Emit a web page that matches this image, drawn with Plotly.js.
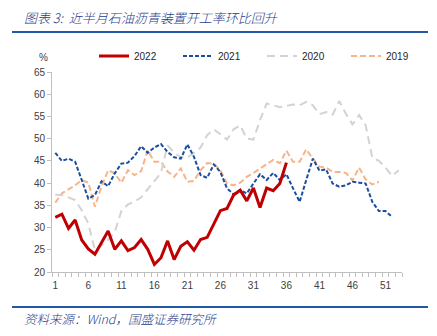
<!DOCTYPE html>
<html>
<head>
<meta charset="utf-8">
<script src="https://cdn.plot.ly/plotly-3.0.1.min.js"></script>
<style>
html,body{margin:0;padding:0;background:#fff;}
#chart{width:437px;height:336px;}
</style>
</head>
<body>
<div id="chart"></div>
<script>
// Week numbers (x categories)
const weeks = [1,2,3,4,5,6,7,8,9,10,11,12,13,14,15,16,17,18,19,20,21,22,23,24,25,26,27,28,29,30,31,32,33,34,35,36,37,38,39,40,41,42,43,44,45,46,47,48,49,50,51,52,53];
const xTickVals = [1,6,11,16,21,26,31,36,41,46,51];
const seriesNames = ["2019","2020","2021","2022"];

const y2022 = [32.3,33.0,29.8,31.7,27.2,25.2,24.0,26.7,29.2,25.1,27.0,24.8,25.5,27.3,25.1,21.7,23.2,27.0,22.8,25.8,26.8,24.9,27.3,27.8,30.7,33.8,34.3,37.3,38.4,36.0,38.9,34.5,38.9,38.3,39.9,44.6];
const y2021 = [46.8,45.0,45.5,44.8,40.7,36.5,37.3,40.4,39.3,42.2,44.4,44.6,46.1,48.3,46.8,48.0,48.8,47.0,45.8,45.5,48.7,45.9,41.8,41.2,44.2,42.5,38.8,37.5,38.4,37.7,39.9,42.0,40.7,42.3,40.7,42.0,38.8,35.8,40.7,45.5,42.8,43.1,39.9,39.2,39.5,40.3,40.1,39.9,35.8,33.7,33.7,32.4];
const y2020 = [37.4,37.3,36.8,36.2,33.9,30.9,24.9,26.1,27.2,29.0,33.7,35.2,35.8,36.8,38.6,40.3,42.3,48.5,46.8,45.8,45.8,46.8,48.0,50.8,52.1,51.0,49.8,52.1,53.0,50.0,49.8,54.2,57.9,57.5,57.1,57.4,57.7,57.5,58.3,57.5,55.5,56.0,55.4,58.5,55.6,53.2,55.3,53.0,45.7,45.0,43.5,41.6,42.9];
const y2019 = [35.6,37.7,38.6,39.5,40.7,40.1,34.7,39.2,42.9,42.2,40.1,42.9,41.8,42.7,47.4,44.8,44.8,42.6,41.4,43.3,40.3,40.5,42.9,44.5,44.4,42.9,39.9,39.5,40.1,41.4,42.3,43.3,44.4,45.2,44.5,47.3,44.8,44.8,47.6,45.5,43.7,43.5,42.5,42.5,42.3,40.6,43.5,40.8,39.7,40.3];

const titleText = "图表 3:  近半月石油沥青装置开工率环比回升";
const sourceText = "资料来源：Wind，国盛证券研究所";

const styles = {
  "2019": {color:"#F7B48A", width:2, dash:"6px,3px"},
  "2020": {color:"#D3D3D3", width:2, dash:"8px,5px"},
  "2021": {color:"#1A4E9E", width:2, dash:"4px,2px"},
  "2022": {color:"#C00000", width:3, dash:"solid"}
};
const values = {"2019":y2019,"2020":y2020,"2021":y2021,"2022":y2022};

const traces = seriesNames.map(n => ({
  type:"scatter", mode:"lines", name:n,
  x: weeks.slice(0, values[n].length), y: values[n],
  line: {color:styles[n].color, width:styles[n].width, dash:styles[n].dash},
  hoverinfo:"skip"
}));

// plot area geometry
const L = 52, R = 35, T = 72, B = 64, W = 437, H = 336;
const pw = W - L - R, ph = H - T - B;
const px = v => (v - L) / pw;
const py = v => (H - B - v) / ph;

const layout = {
  width: W, height: H,
  margin: {l:L, r:R, t:T, b:B, pad:0},
  paper_bgcolor:"#fff", plot_bgcolor:"#fff",
  font: {family:"Liberation Sans, Arial, sans-serif", size:10, color:"#404040"},
  showlegend: true,
  legend: {orientation:"h", traceorder:"reversed", xref:"container", yref:"container",
           x:94/W, xanchor:"left", y:(H-56)/H, yanchor:"middle",
           font:{size:10, color:"#262626"}, entrywidth:39, entrywidthmode:"pixels", itemwidth:30,
           bgcolor:"rgba(0,0,0,0)", borderwidth:0, tracegroupgap:0},
  xaxis: {range:[0.5,53.5], tickvals:xTickVals, ticktext:xTickVals.map(String),
          showline:true, linecolor:"#BFBFBF", linewidth:1, ticks:"", showgrid:false, zeroline:false,
          tickfont:{size:10, color:"#404040"}, ticklabelstandoff:4,
          minor:{tick0:0.5, dtick:1, ticks:"outside", ticklen:4, tickcolor:"#BFBFBF", showgrid:false}},
  yaxis: {range:[20,65], dtick:5, tick0:20, showline:true, linecolor:"#BFBFBF", linewidth:1,
          ticks:"outside", ticklen:4, tickcolor:"#BFBFBF", showgrid:false, zeroline:false,
          tickfont:{size:10, color:"#404040"}},
  shapes: [
    {type:"line", xref:"paper", yref:"paper", x0:px(12), x1:px(428), y0:py(32), y1:py(32), line:{color:"#2457A8", width:2}},
    {type:"line", xref:"paper", yref:"paper", x0:px(12), x1:px(428), y0:py(307), y1:py(307), line:{color:"#2457A8", width:2}}
  ],
  annotations: [
    {text:"<i>"+titleText+"</i>", xref:"paper", yref:"paper", x:px(22), y:py(17), xanchor:"left", yanchor:"middle", showarrow:false,
     font:{family:"Noto Sans CJK SC, sans-serif", size:13, color:"#1F3C8C", style:"italic", weight:300}},
    {text:"<i>"+sourceText+"</i>", xref:"paper", yref:"paper", x:px(22), y:py(318), xanchor:"left", yanchor:"middle", showarrow:false,
     font:{family:"Noto Sans CJK SC, sans-serif", size:12.5, color:"#1F3C8C", style:"italic", weight:300}},
    {text:"%", xref:"paper", yref:"paper", x:px(43), y:py(57), xanchor:"center", yanchor:"middle", showarrow:false,
     font:{size:10, color:"#404040"}}
  ]
};

Plotly.newPlot("chart", traces, layout, {staticPlot:true, displayModeBar:false});
</script>
</body>
</html>
